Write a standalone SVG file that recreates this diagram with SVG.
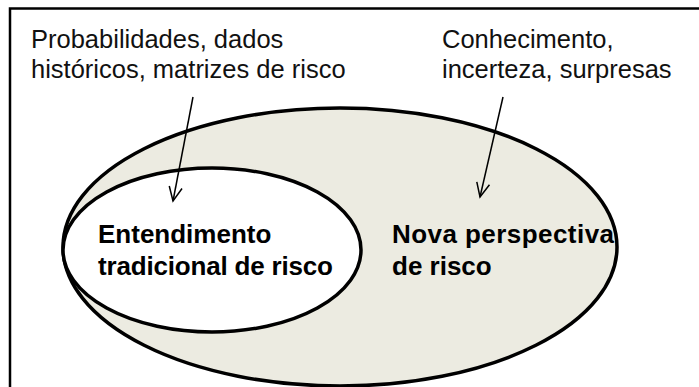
<svg xmlns="http://www.w3.org/2000/svg" width="699" height="387" viewBox="0 0 699 387">
  <style>
    .lbl { font-family: "Liberation Sans", Arial, sans-serif; font-size: 25.5px; fill: #111; }
    .bold { font-family: "Liberation Sans", Arial, sans-serif; font-size: 26px; font-weight: bold; fill: #000; }
    .conn { stroke: #000; stroke-width: 1.5; fill: none; }
  </style>
  <defs>
    <marker id="open" markerUnits="userSpaceOnUse" markerWidth="18" markerHeight="16" refX="16" refY="8" orient="auto" viewBox="0 0 18 16">
      <path d="M2,1.5 L16,8 L2,14.5" fill="none" stroke="#000" stroke-width="1.5"/>
    </marker>
  </defs>
  <rect x="0" y="0" width="699" height="387" fill="#fff"/>
  <rect id="frame" x="10" y="8.5" width="720" height="420" fill="none" stroke="#000" stroke-width="2.5"/>
  <g id="nova">
    <ellipse cx="340" cy="247" rx="277" ry="139" fill="#ecebe1" stroke="#000" stroke-width="3.5"/>
    <text class="bold" x="392" y="243" textLength="222" lengthAdjust="spacing">Nova perspectiva</text>
    <text class="bold" x="392" y="275">de risco</text>
  </g>
  <g id="tradicional">
    <ellipse cx="212" cy="250" rx="149" ry="82" fill="#fff" stroke="#000" stroke-width="3.5"/>
    <text class="bold" x="98" y="243">Entendimento</text>
    <text class="bold" x="98" y="275" textLength="235" lengthAdjust="spacing">tradicional de risco</text>
  </g>
  <g id="label-prob">
    <text class="lbl" x="31" y="48">Probabilidades, dados</text>
    <text class="lbl" x="31" y="78">históricos, matrizes de risco</text>
  </g>
  <g id="label-conh">
    <text class="lbl" x="442" y="48">Conhecimento,</text>
    <text class="lbl" x="442" y="78">incerteza, surpresas</text>
  </g>
  <g id="connectors">
    <line class="conn" x1="193" y1="97" x2="173" y2="201" marker-end="url(#open)"/>
    <line class="conn" x1="503" y1="97" x2="480" y2="197" marker-end="url(#open)"/>
  </g>
</svg>
